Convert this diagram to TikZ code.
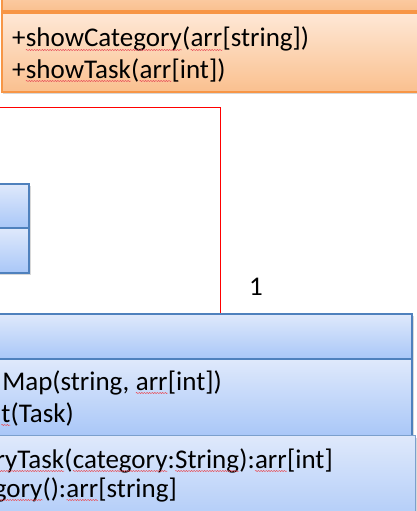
\documentclass[tikz,border=0pt]{standalone}
\usepackage{fontspec}
\setmainfont{Carlito}
\usepackage{tikz}
\usetikzlibrary{shadows, decorations.pathmorphing}
\definecolor{corange}{HTML}{F79646}
\definecolor{corangeL}{HTML}{FEE8D6}
\definecolor{corangeD}{HTML}{FAC08F}
\definecolor{cblue}{HTML}{4F81BD}
\definecolor{cblueL}{HTML}{DFE9FB}
\definecolor{cblueD}{HTML}{A9C7F8}
\definecolor{cspell}{HTML}{E8505A}

% wavy spell-check mark under a word
\tikzset{spell/.style={draw=cspell, line width=0.5pt,
  decorate, decoration={snake, amplitude=0.6pt, segment length=2.6pt}}}
\newcommand{\sq}[1]{\tikz[baseline=(sqw.base)]{%
  \node[inner sep=0pt, outer sep=0pt, anchor=base] (sqw) {#1};
  \draw[spell] ([yshift=-3pt]sqw.base west) -- ([yshift=-3pt]sqw.base east);}}

\begin{document}
\begin{tikzpicture}[
  x=1pt, y=-1pt,
  ocomp/.style={
    rectangle, draw=corange, line width=1.8pt,
    top color=corangeL, bottom color=corangeD, inner sep=0pt,
    drop shadow={shadow xshift=1pt, shadow yshift=-2.5pt, opacity=0.3}
  },
  bcomp/.style={
    rectangle, draw=cblue, line width=1.8pt,
    top color=cblueL, bottom color=cblueD, inner sep=0pt,
    drop shadow={shadow xshift=1.5pt, shadow yshift=-2pt, opacity=0.3}
  },
  member/.style={font=\fontsize{27}{31}\selectfont, inner sep=0pt, text=black},
  assoc/.style={draw=red, line width=0.9pt}
]
\useasboundingbox (0,0) rectangle (417,511);
\clip (0,0) rectangle (417,511);
\fill[white] (0,0) rectangle (417,511);

% ============================================================
% Top: orange class, name and operations compartments.
\node[ocomp, anchor=south west, minimum width=470pt, minimum height=50pt] (oname) at (1,12) {};
\node[ocomp, anchor=north west, minimum width=470pt, minimum height=79pt] (oops) at (1,12) {};
\node[member, anchor=base west] (op1) at (12,47) {+\sq{showCategory}(\sq{arr}[string])};
\node[member, anchor=base west] (op2) at (12,78) {+\sq{showTask}(\sq{arr}[int])};

% ============================================================
% Left: small blue class, two compartments.
\node[bcomp, anchor=north east, minimum width=60pt, minimum height=44pt] (sname) at (30,183) {};
\node[bcomp, anchor=north east, minimum width=60pt, minimum height=45pt] (sattr) at (30,227) {};

% ============================================================
% Bottom: large blue class, name, attributes and operations.
\node[bcomp, anchor=north east, minimum width=460pt, minimum height=45pt] (bname) at (413,313) {};
\node[bcomp, anchor=north east, minimum width=460pt, minimum height=77pt] (battr) at (413,358) {};
\node[bcomp, draw=cblue!75, line width=1pt, anchor=north east,
  minimum width=470pt, minimum height=100pt] (bops) at (416,435) {};

\node[member, anchor=base east] (at1) at (222,390) {Map(string, \sq{arr}[int])};
\node[member, anchor=base east] (at2) at (74,422) {\sq{t}(Task)};
\node[member, anchor=base east] (bo1) at (333,468)
  {\sq{ryTask}(\sq{category}:\sq{String}):\sq{arr}[int]};
\node[member, anchor=base east] (bo2) at (177,497) {\sq{gory}():\sq{arr}[string]};

% ============================================================
% Association coming in from the left, down to the large class.
\coordinate (src) at (-5,107);
\coordinate (tgt) at (220,0);
\draw[assoc] (src) -| (bname.north -| tgt);
\node[member, anchor=base west] (mult) at (249,295) {1};

\end{tikzpicture}
\end{document}
